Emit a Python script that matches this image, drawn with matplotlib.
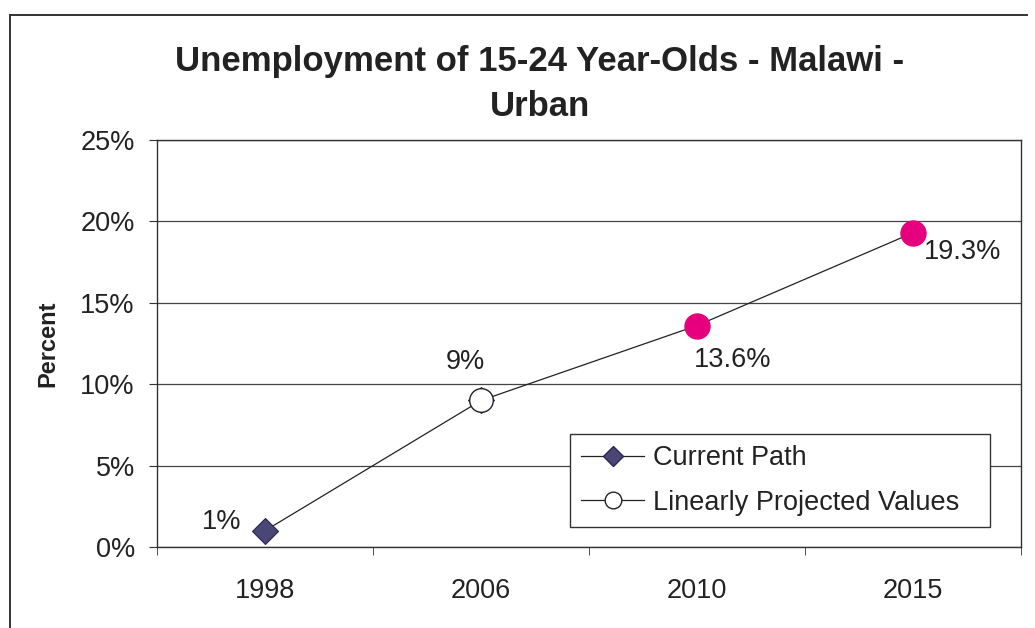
import numpy as np
import matplotlib
matplotlib.use('Agg')
import matplotlib.pyplot as plt
from matplotlib.lines import Line2D

plt.rcParams['font.family'] = ['Liberation Sans', 'DejaVu Sans']

#data
years = ['1998', '2006', '2010', '2015']
values = [1.0, 9.0, 13.6, 19.3]
current = [1.0, 9.0]          # current path points (1998, 2006)
projected = [9.0, 13.6, 19.3]  # projected points (2006 on)
labels = ['1%', '9%', '13.6%', '19.3%']
yticks = [0, 5, 10, 15, 20, 25]

fig = plt.figure(figsize=(10.35, 6.28), dpi=100)
ax = fig.add_axes([157/1035, 1-547/628, 864/1035, 407/628])

x = np.arange(len(years))
txt = '#222222'

#connecting line
ax.plot(x, values, color='#222222', lw=0.9, zorder=2)
#current path diamonds
ax.plot(x[:2], current, ls='none', marker='D', ms=13, mfc='#4a4676', mec='#2a2850', mew=0.8, zorder=3)
#projected: white circle at 2006, pink at later years
ax.plot(x[1:2], projected[:1], ls='none', marker='o', ms=17, mfc='white', mec='#222222', mew=1.0, zorder=4)
ax.plot(x[2:], projected[1:], ls='none', marker='o', ms=18, mfc='#e6007e', mec='#e6007e', zorder=4)

#data labels
fs = 19.5
offs = [(-31, 6), (-11, 28), (26, -25), (36, -14)]
for xi, v, lab, o in zip(x, values, labels, offs):
    ax.annotate(lab, (xi, v), xytext=o, textcoords='offset points', ha='center', va='center',
                fontsize=fs, color=txt)

ax.set_xlim(-0.5, 3.5)
ax.set_ylim(0, 25)
ax.set_yticks(yticks)
ax.set_yticklabels(['%d%%' % v for v in yticks], fontsize=fs, color=txt)
ax.yaxis.grid(True, color='#444444', lw=0.9)
ax.set_axisbelow(True)
ax.set_xticks(x)
ax.set_xticklabels(years, fontsize=fs, color=txt)
ax.set_xticks(np.arange(-0.5, 4, 1), minor=True)
ax.tick_params(axis='x', which='major', length=0, pad=22)
ax.tick_params(axis='x', which='minor', length=6, direction='out', color='#333333')
ax.tick_params(axis='y', length=6, direction='out', color='#333333', pad=10)
for s in ax.spines.values():
    s.set_color('#333333')
    s.set_linewidth(1.0)

ax.set_ylabel('Percent', fontsize=17, fontweight='bold', labelpad=15, color=txt)

fig.text(540/1035, 1-84/628, 'Unemployment of 15-24 Year-Olds - Malawi -\nUrban',
         ha='center', va='center', fontsize=25, fontweight='bold', linespacing=1.45, color=txt)

#legend
handles = [Line2D([], [], color='#222222', lw=0.9, marker='D', ms=10, mfc='#4a4676', mec='#2a2850'),
           Line2D([], [], color='#222222', lw=0.9, marker='o', ms=12, mfc='white', mec='#222222')]
leg = ax.legend(handles, ['Current Path', 'Linearly Projected Values'], loc='lower left',
                bbox_to_anchor=((570-157)/864, (547-527)/407, (990-570)/864, (527-433)/407),
                mode='expand', fancybox=False, edgecolor='#333333', framealpha=1,
                fontsize=fs, handlelength=2.3, borderpad=0.42, labelspacing=0.68, handletextpad=0.35,
                borderaxespad=0)
leg.get_frame().set_linewidth(1.0)
for t in leg.get_texts():
    t.set_color(txt)

#outer frame (left and top)
fig.add_artist(Line2D([10/1035, 10/1035], [0, 1-15/628], transform=fig.transFigure, color='#333333', lw=1.4))
fig.add_artist(Line2D([10/1035, 1027/1035], [1-15/628, 1-15/628], transform=fig.transFigure, color='#333333', lw=1.4))

fig.savefig('out.png', dpi=100)
